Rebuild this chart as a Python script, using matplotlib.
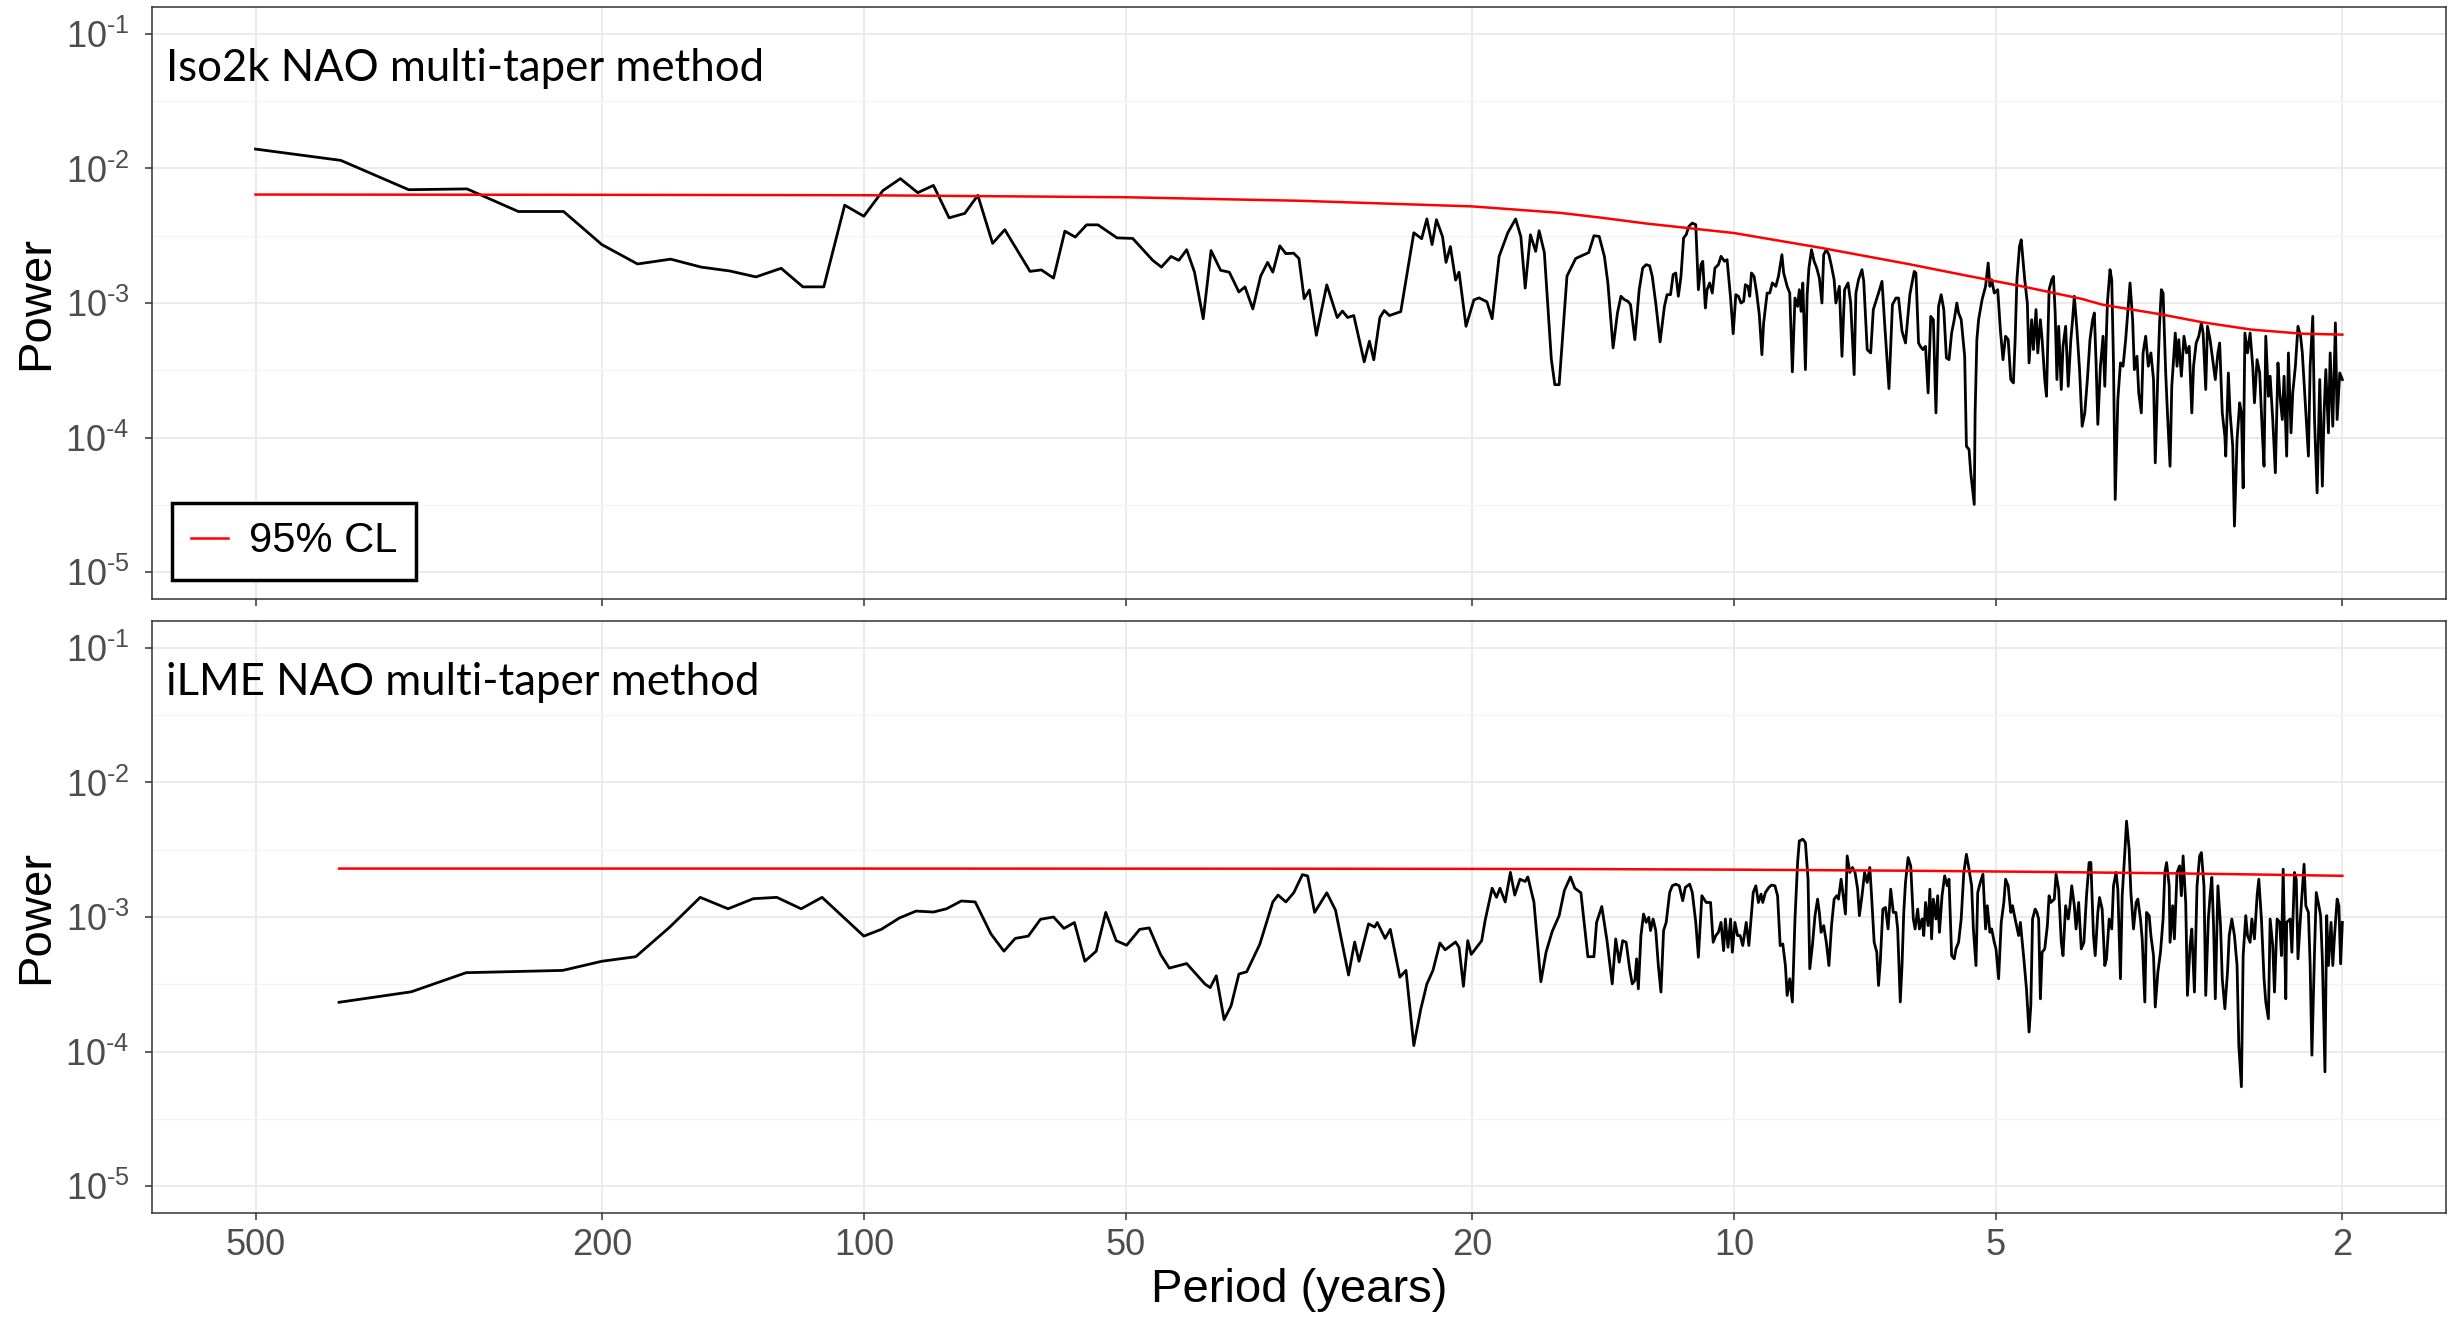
import numpy as np
import matplotlib
matplotlib.use("Agg")
import matplotlib.pyplot as plt
from matplotlib.lines import Line2D
from matplotlib.ticker import NullLocator, NullFormatter

plt.rcParams["font.family"] = ["Liberation Sans", "DejaVu Sans"]
plt.rcParams["mathtext.fontset"] = "custom"
plt.rcParams["mathtext.rm"] = "Liberation Sans"
plt.rcParams["mathtext.it"] = "Liberation Sans:italic"
plt.rcParams["mathtext.bf"] = "Liberation Sans:bold"

panel_titles = ["Iso2k NAO multi-taper method", "iLME NAO multi-taper method"]
period_ticks = [500, 200, 100, 50, 20, 10, 5, 2]
power_exponents = [-1, -2, -3, -4, -5]
power_minor_exponents = [-1.5, -2.5, -3.5, -4.5]
legend_label = "95% CL"

# spectra as (log10 period [yr], log10 power)
iso_spectrum = [
    (2.699, -1.856), (2.601, -1.940), (2.523, -2.158), (2.456, -2.152), (2.397, -2.320),
    (2.345, -2.320), (2.301, -2.566), (2.260, -2.710), (2.222, -2.674), (2.187, -2.733),
    (2.154, -2.762), (2.124, -2.806), (2.095, -2.742), (2.070, -2.880), (2.046, -2.880),
    (2.022, -2.273), (2.000, -2.355), (1.978, -2.164), (1.958, -2.076), (1.938, -2.180),
    (1.920, -2.126), (1.902, -2.367), (1.884, -2.334), (1.869, -2.200), (1.852, -2.557),
    (1.838, -2.455), (1.809, -2.765), (1.796, -2.754), (1.782, -2.815), (1.769, -2.466),
    (1.757, -2.510), (1.744, -2.419), (1.731, -2.419), (1.709, -2.516), (1.691, -2.520),
    (1.668, -2.683), (1.658, -2.733), (1.647, -2.654), (1.638, -2.683), (1.629, -2.604),
    (1.620, -2.771), (1.610, -3.117), (1.601, -2.610), (1.590, -2.757), (1.580, -2.771),
    (1.569, -2.918), (1.562, -2.880), (1.553, -3.044), (1.544, -2.800), (1.536, -2.698),
    (1.530, -2.771), (1.522, -2.575), (1.515, -2.633), (1.506, -2.630), (1.500, -2.669),
    (1.494, -2.968), (1.488, -2.903), (1.480, -3.240), (1.468, -2.865), (1.456, -3.108),
    (1.450, -3.060), (1.444, -3.108), (1.437, -3.093), (1.425, -3.437), (1.419, -3.284),
    (1.414, -3.422), (1.407, -3.108), (1.402, -3.056), (1.396, -3.093), (1.383, -3.064),
    (1.368, -2.478), (1.359, -2.522), (1.353, -2.375), (1.347, -2.566), (1.342, -2.381),
    (1.335, -2.507), (1.331, -2.698), (1.326, -2.580), (1.320, -2.830), (1.316, -2.771),
    (1.308, -3.173), (1.299, -2.977), (1.293, -2.962), (1.284, -2.991), (1.278, -3.117),
    (1.270, -2.654), (1.260, -2.478), (1.251, -2.375), (1.245, -2.507), (1.240, -2.889),
    (1.234, -2.493), (1.228, -2.616), (1.224, -2.463), (1.218, -2.625), (1.210, -3.416),
    (1.206, -3.607), (1.201, -3.607), (1.192, -2.800), (1.182, -2.669), (1.167, -2.625),
    (1.161, -2.500),
    (1.155, -2.505), (1.149, -2.653), (1.145, -2.851), (1.139, -3.334), (1.134, -3.074),
    (1.130, -2.950), (1.126, -2.975), (1.122, -2.987), (1.119, -3.012), (1.114, -3.272),
    (1.109, -2.901), (1.105, -2.740), (1.101, -2.715), (1.097, -2.723), (1.094, -2.802),
    (1.090, -3.000), (1.085, -3.289), (1.080, -3.025), (1.077, -2.938), (1.073, -2.938),
    (1.070, -2.789), (1.067, -2.777), (1.064, -2.950), (1.061, -2.802), (1.058, -2.517),
    (1.055, -2.492), (1.052, -2.431), (1.048, -2.406), (1.044, -2.418), (1.041, -2.901),
    (1.038, -2.715), (1.036, -2.690), (1.033, -3.037), (1.031, -2.901), (1.028, -2.851),
    (1.025, -2.926), (1.022, -2.740), (1.018, -2.715), (1.015, -2.653), (1.011, -2.690),
    (1.008, -2.678), (1.004, -2.963), (1.001, -3.228), (0.998, -2.938), (0.995, -2.950),
    (0.992, -3.000), (0.989, -2.987), (0.987, -2.864), (0.984, -2.876), (0.982, -2.950),
    (0.980, -2.777), (0.977, -2.802), (0.974, -2.926), (0.971, -3.086), (0.968, -3.384),
    (0.966, -3.148), (0.962, -2.926), (0.959, -2.926), (0.956, -2.851), (0.952, -2.876),
    (0.949, -2.802), (0.945, -2.641), (0.943, -2.777), (0.939, -2.876), (0.936, -2.926),
    (0.933, -3.512), (0.930, -2.963), (0.927, -3.025), (0.925, -2.901), (0.923, -3.062),
    (0.921, -2.851), (0.918, -3.495), (0.916, -2.938), (0.914, -2.740), (0.911, -2.604),
    (0.908, -2.690), (0.905, -2.740), (0.902, -2.814), (0.899, -3.000), (0.897, -2.641),
    (0.894, -2.604), (0.891, -2.641), (0.888, -2.728), (0.885, -2.827), (0.883, -3.000),
    (0.879, -2.876), (0.876, -3.396), (0.873, -2.901), (0.869, -2.851), (0.866, -3.000),
    (0.862, -3.532), (0.860, -2.926), (0.857, -2.827), (0.853, -2.752), (0.851, -2.839),
    (0.847, -3.346), (0.843, -3.371), (0.840, -3.049), (0.837, -2.987), (0.834, -2.926),
    (0.830, -2.839), (0.827, -3.148), (0.822, -3.636), (0.818, -3.012), (0.814, -2.963),
    (0.811, -2.963), (0.807, -3.210), (0.803, -3.297), (0.798, -2.938), (0.793, -2.765),
    (0.791, -2.777), (0.788, -3.297), (0.786, -3.322), (0.783, -3.346), (0.780, -3.322),
    (0.777, -3.668), (0.774, -3.099), (0.771, -3.124), (0.768, -3.817), (0.765, -3.025),
    (0.762, -2.938), (0.759, -3.049), (0.756, -3.408), (0.753, -3.421), (0.750, -3.223),
    (0.747, -3.124), (0.744, -3.000), (0.742, -3.074), (0.739, -3.124), (0.735, -3.396),
    (0.733, -4.064), (0.730, -4.089), (0.728, -4.262), (0.724, -4.497), (0.723, -3.817),
    (0.721, -3.272), (0.719, -3.124),
    (0.715, -2.975), (0.711, -2.876), (0.708, -2.703), (0.706, -2.876), (0.704, -2.827),
    (0.701, -2.926), (0.697, -2.901), (0.694, -3.198), (0.691, -3.421), (0.688, -3.247),
    (0.685, -3.272), (0.682, -3.569), (0.679, -3.594), (0.677, -3.272), (0.675, -2.827),
    (0.672, -2.579), (0.670, -2.530), (0.668, -2.678), (0.666, -2.827), (0.663, -3.000),
    (0.661, -3.445), (0.658, -3.124), (0.656, -3.346), (0.653, -3.049), (0.651, -3.371),
    (0.648, -3.124), (0.646, -3.272), (0.643, -3.569), (0.641, -3.693), (0.638, -2.901),
    (0.635, -2.827), (0.633, -2.802), (0.631, -3.074), (0.629, -3.569), (0.627, -3.173),
    (0.624, -3.643), (0.622, -3.322), (0.619, -3.173), (0.616, -3.619), (0.613, -3.272),
    (0.611, -3.124), (0.609, -2.950), (0.606, -3.198), (0.603, -3.495), (0.600, -3.916),
    (0.597, -3.817), (0.594, -3.569), (0.591, -3.272), (0.588, -3.124), (0.586, -3.074),
    (0.584, -3.445), (0.582, -3.902), (0.579, -3.470), (0.576, -3.247), (0.574, -3.619),
    (0.571, -3.000), (0.568, -2.752), (0.566, -2.827), (0.564, -3.445), (0.562, -4.460),
    (0.559, -3.718), (0.556, -3.445), (0.553, -3.470), (0.550, -3.272), (0.547, -3.025),
    (0.545, -2.851), (0.542, -3.124), (0.540, -3.495), (0.537, -3.396), (0.535, -3.668),
    (0.532, -3.817), (0.530, -3.371), (0.527, -3.247), (0.524, -3.470), (0.521, -3.371),
    (0.518, -3.569), (0.516, -4.188), (0.513, -3.520), (0.511, -3.148), (0.509, -2.901),
    (0.507, -2.926), (0.504, -3.520), (0.502, -3.817), (0.499, -4.213), (0.497, -3.619),
    (0.493, -3.223), (0.491, -3.470), (0.489, -3.272), (0.486, -3.544), (0.483, -3.247),
    (0.480, -3.371), (0.477, -3.322), (0.474, -3.817), (0.472, -3.470), (0.469, -3.297),
    (0.466, -3.247), (0.463, -3.148), (0.461, -3.223), (0.458, -3.643), (0.456, -3.173),
    (0.453, -3.272), (0.449, -3.470), (0.447, -3.569), (0.444, -3.371), (0.442, -3.297),
    (0.439, -3.817), (0.436, -3.990), (0.435, -4.138), (0.432, -3.520), (0.430, -3.817),
    (0.427, -4.064), (0.425, -4.658), (0.422, -4.015), (0.419, -3.742), (0.417, -3.817),
    (0.415, -4.374), (0.413, -3.223), (0.410, -3.371), (0.407, -3.223), (0.404, -3.470),
    (0.402, -3.742), (0.399, -3.421), (0.396, -3.520), (0.393, -3.965), (0.391, -4.213),
    (0.389, -3.247), (0.386, -3.693), (0.384, -3.544), (0.381, -3.866), (0.378, -4.262),
    (0.375, -3.445), (0.373, -3.668), (0.370, -3.866), (0.368, -3.544), (0.365, -4.138),
    (0.363, -3.371), (0.360, -3.965), (0.358, -3.668), (0.355, -3.470), (0.352, -3.173),
    (0.349, -3.247), (0.347, -3.371), (0.343, -3.817), (0.340, -4.138), (0.338, -3.470),
    (0.335, -3.099), (0.333, -3.866), (0.330, -4.411), (0.327, -3.569), (0.324, -4.361),
    (0.322, -3.817), (0.320, -3.495), (0.317, -3.965), (0.315, -3.371), (0.312, -3.916),
    (0.309, -3.148), (0.307, -3.866), (0.304, -3.520), (0.301, -3.569),
]

iso_cl = [
    (2.699, -2.194), (2.301, -2.196), (2.000, -2.199), (1.699, -2.214), (1.500, -2.240),
    (1.301, -2.282), (1.200, -2.330), (1.155, -2.364), (1.100, -2.410), (1.000, -2.480),
    (0.900, -2.590), (0.800, -2.710), (0.730, -2.800), (0.669, -2.876), (0.600, -2.970),
    (0.577, -3.012), (0.508, -3.086), (0.462, -3.143), (0.405, -3.198), (0.347, -3.228),
    (0.301, -3.235),
]

ilme_spectrum = [
    (2.603, -3.634), (2.520, -3.556), (2.457, -3.414), (2.346, -3.397), (2.301, -3.329),
    (2.262, -3.295), (2.223, -3.075), (2.188, -2.854), (2.156, -2.939), (2.127, -2.864),
    (2.100, -2.854), (2.072, -2.939), (2.048, -2.854), (2.000, -3.142), (1.980, -3.092),
    (1.959, -3.007), (1.940, -2.956), (1.920, -2.963), (1.905, -2.939), (1.888, -2.881),
    (1.872, -2.888), (1.854, -3.125), (1.839, -3.254), (1.826, -3.159), (1.811, -3.142),
    (1.797, -3.017), (1.782, -3.000), (1.770, -3.085), (1.758, -3.041), (1.746, -3.329),
    (1.733, -3.254), (1.722, -2.966), (1.710, -3.176), (1.698, -3.210), (1.683, -3.092),
    (1.672, -3.081), (1.659, -3.278), (1.649, -3.380), (1.629, -3.346), (1.608, -3.498),
    (1.602, -3.525), (1.595, -3.437), (1.586, -3.763), (1.578, -3.661), (1.569, -3.424),
    (1.560, -3.407), (1.545, -3.203), (1.530, -2.888), (1.524, -2.837), (1.515, -2.888),
    (1.506, -2.820), (1.496, -2.685), (1.490, -2.695), (1.482, -2.966), (1.468, -2.820),
    (1.458, -2.949), (1.443, -3.431), (1.436, -3.186), (1.431, -3.329), (1.420, -3.051),
    (1.413, -3.075), (1.410, -3.041), (1.401, -3.159), (1.395, -3.092), (1.384, -3.447),
    (1.377, -3.397), (1.368, -3.956), (1.360, -3.685), (1.353, -3.498), (1.346, -3.397),
    (1.338, -3.193), (1.332, -3.244), (1.320, -3.186), (1.316, -3.227), (1.311, -3.515),
    (1.306, -3.176), (1.302, -3.278), (1.290, -3.176), (1.286, -3.024), (1.278, -2.786),
    (1.273, -2.854), (1.269, -2.786), (1.263, -2.888), (1.257, -2.668), (1.252, -2.837),
    (1.246, -2.719), (1.240, -2.736), (1.237, -2.702), (1.230, -2.888), (1.222, -3.481),
    (1.216, -3.261), (1.209, -3.108), (1.201, -2.990), (1.195, -2.803), (1.188, -2.702),
    (1.183, -2.786), (1.176, -2.820), (1.168, -3.295), (1.161, -3.295), (1.158, -3.041),
    (1.152, -2.922), (1.146, -3.176), (1.140, -3.497),
    (1.136, -3.163), (1.132, -3.336), (1.128, -3.176), (1.124, -3.188), (1.120, -3.385),
    (1.117, -3.497), (1.114, -3.472), (1.112, -3.311), (1.110, -3.534), (1.107, -3.138),
    (1.104, -2.978), (1.101, -3.040), (1.098, -3.003), (1.096, -3.101), (1.093, -3.015),
    (1.090, -3.101), (1.087, -3.361), (1.084, -3.558), (1.081, -3.101), (1.078, -3.040),
    (1.074, -2.818), (1.071, -2.768), (1.067, -2.756), (1.063, -2.768), (1.059, -2.879),
    (1.056, -2.780), (1.051, -2.756), (1.048, -2.818), (1.044, -3.040), (1.041, -3.299),
    (1.037, -2.842), (1.032, -2.892), (1.027, -2.892), (1.024, -3.188), (1.021, -3.138),
    (1.018, -3.114), (1.015, -3.040), (1.012, -3.250), (1.010, -3.015), (1.007, -3.225),
    (1.004, -3.015), (1.002, -3.262), (0.999, -3.040), (0.996, -3.138), (0.993, -3.138),
    (0.990, -3.212), (0.986, -3.040), (0.983, -3.212),
    (0.978, -2.818), (0.975, -2.768), (0.972, -2.892), (0.969, -2.830), (0.967, -2.892),
    (0.964, -2.818), (0.960, -2.780), (0.957, -2.763), (0.953, -2.768), (0.950, -2.842),
    (0.947, -3.213), (0.944, -3.200), (0.941, -3.361), (0.939, -3.583), (0.936, -3.459),
    (0.933, -3.632), (0.930, -3.015), (0.927, -2.595), (0.925, -2.435), (0.921, -2.422),
    (0.918, -2.447), (0.915, -2.719), (0.913, -3.385), (0.910, -3.213), (0.907, -2.990),
    (0.904, -2.867), (0.902, -2.966), (0.900, -3.114), (0.897, -3.064), (0.894, -3.188),
    (0.891, -3.361), (0.888, -3.064), (0.885, -2.867), (0.882, -2.842), (0.880, -2.867),
    (0.877, -2.719), (0.875, -2.818), (0.872, -2.978), (0.870, -2.546), (0.867, -2.669),
    (0.864, -2.632), (0.861, -2.669), (0.858, -2.793), (0.856, -2.990), (0.853, -2.842),
    (0.850, -2.669), (0.847, -2.743), (0.844, -2.632), (0.842, -2.842), (0.839, -3.188),
    (0.836, -3.262), (0.834, -3.509), (0.832, -3.336), (0.829, -2.941), (0.826, -2.929),
    (0.823, -3.089), (0.820, -2.793), (0.817, -2.966), (0.814, -2.966), (0.812, -3.089),
    (0.809, -3.632), (0.807, -3.361), (0.805, -2.966), (0.803, -2.743), (0.800, -2.558),
    (0.797, -2.620), (0.794, -3.015), (0.792, -3.089), (0.789, -2.941), (0.787, -3.089),
    (0.784, -3.015), (0.782, -3.138), (0.780, -2.892), (0.777, -3.064), (0.775, -2.793),
    (0.773, -3.163), (0.771, -2.867), (0.768, -3.015), (0.766, -2.842), (0.764, -3.114),
    (0.761, -2.842), (0.758, -2.694), (0.755, -2.768), (0.753, -2.719), (0.750, -3.287),
    (0.747, -3.311), (0.745, -3.237), (0.742, -3.188), (0.739, -3.015), (0.736, -2.669),
    (0.733, -2.534), (0.730, -2.645), (0.727, -2.768), (0.725, -3.089), (0.722, -3.361),
    (0.720, -2.818), (0.717, -2.743), (0.714, -2.682), (0.711, -3.089), (0.709, -2.916),
    (0.706, -3.114), (0.704, -3.089), (0.701, -3.188), (0.699, -3.237), (0.696, -3.459),
    (0.693, -3.040), (0.690, -2.892), (0.688, -2.719), (0.685, -2.768), (0.682, -2.966),
    (0.680, -2.916), (0.677, -3.015), (0.673, -3.138), (0.671, -3.040), (0.667, -3.311),
    (0.664, -3.534), (0.661, -3.855), (0.659, -3.657), (0.657, -3.015), (0.654, -2.941),
    (0.652, -2.966), (0.650, -3.015),
    (0.648, -3.608), (0.646, -3.262), (0.643, -3.237), (0.640, -3.064), (0.638, -2.842),
    (0.636, -2.892), (0.632, -2.867), (0.630, -2.682), (0.627, -2.793), (0.624, -3.188),
    (0.622, -3.287), (0.619, -2.916), (0.616, -3.015), (0.614, -2.916), (0.612, -2.768),
    (0.609, -2.916), (0.607, -3.089), (0.604, -2.892), (0.601, -3.237), (0.598, -3.188),
    (0.595, -2.842), (0.592, -2.595), (0.590, -2.595), (0.587, -3.138), (0.585, -3.287),
    (0.582, -2.966), (0.580, -2.855), (0.577, -2.941), (0.574, -3.361), (0.572, -3.311),
    (0.569, -3.015), (0.566, -3.089), (0.564, -2.768), (0.561, -2.669), (0.559, -2.793),
    (0.556, -3.459), (0.554, -2.842), (0.551, -2.521), (0.549, -2.287), (0.546, -2.497),
    (0.544, -2.818), (0.541, -3.089), (0.538, -2.892), (0.536, -2.867), (0.533, -3.015),
    (0.531, -3.163), (0.528, -3.632), (0.526, -2.966), (0.523, -2.990), (0.521, -3.138),
    (0.518, -3.287), (0.516, -3.669), (0.513, -3.410), (0.510, -3.262), (0.507, -3.015),
    (0.505, -2.669), (0.503, -2.595), (0.500, -2.768), (0.499, -3.188), (0.496, -2.916),
    (0.494, -3.163), (0.491, -2.669), (0.488, -2.620), (0.486, -2.842), (0.484, -2.546),
    (0.481, -2.892), (0.479, -3.583), (0.476, -3.213), (0.474, -3.089), (0.471, -3.558),
    (0.468, -2.768), (0.465, -2.546), (0.463, -2.521), (0.460, -2.768), (0.458, -3.583),
    (0.455, -3.015), (0.453, -2.842), (0.451, -2.706), (0.449, -3.064), (0.447, -3.608),
    (0.444, -2.768), (0.441, -3.064), (0.439, -3.459), (0.436, -3.682), (0.433, -3.410),
    (0.431, -3.138), (0.428, -3.015), (0.425, -3.138), (0.422, -3.361), (0.420, -3.953),
    (0.417, -4.262), (0.415, -3.287), (0.412, -2.990), (0.410, -3.138), (0.407, -3.188),
    (0.405, -3.015), (0.402, -3.163), (0.399, -2.842), (0.397, -2.719), (0.394, -3.015),
    (0.391, -3.459), (0.389, -3.632), (0.386, -3.756), (0.384, -3.015), (0.381, -3.213),
    (0.379, -3.558), (0.376, -3.015), (0.373, -3.040), (0.371, -3.287), (0.369, -2.645),
    (0.366, -3.608), (0.365, -3.040), (0.361, -3.015), (0.359, -3.262), (0.356, -2.669),
    (0.354, -2.719), (0.352, -3.311), (0.349, -2.990), (0.347, -2.793), (0.345, -2.608),
    (0.343, -2.916), (0.340, -2.966), (0.338, -3.361), (0.336, -4.027), (0.333, -3.262),
    (0.331, -2.818), (0.328, -2.916), (0.326, -2.990), (0.324, -3.311), (0.321, -4.151),
    (0.319, -2.990), (0.317, -3.361), (0.314, -3.040), (0.312, -3.361), (0.310, -3.138),
    (0.307, -2.867), (0.305, -2.916), (0.303, -3.348), (0.301, -3.040),
]

ilme_cl = [
    (2.603, -2.640), (2.000, -2.640), (1.500, -2.641), (1.200, -2.643), (1.000, -2.648),
    (0.800, -2.656), (0.660, -2.664), (0.500, -2.675), (0.400, -2.684), (0.301, -2.694),
]

grid_major = "#EBEBEB"
grid_minor = "#F3F3F3"
frame_col = "#333333"
tick_text = "#4D4D4D"

fig = plt.figure(figsize=(24.55, 13.18), dpi=100)
ax_top = fig.add_axes([0.0619, 0.5455, 0.9344, 0.4492])
ax_bot = fig.add_axes([0.0619, 0.0797, 0.9344, 0.4491])

panels = [
    (ax_top, iso_spectrum, iso_cl, panel_titles[0]),
    (ax_bot, ilme_spectrum, ilme_cl, panel_titles[1]),
]

for ax, spectrum, cl, title in panels:
    log_p, log_pow = np.array(spectrum).T
    ax.plot(10 ** log_p, 10 ** log_pow, color="black", lw=2.0, zorder=3)
    cl_p, cl_pow = np.array(cl).T
    ax.plot(10 ** cl_p, 10 ** cl_pow, color="red", lw=1.8, zorder=4)

    ax.set_xscale("log")
    ax.set_yscale("log")
    ax.set_xlim(10 ** 2.818, 10 ** 0.182)
    ax.set_ylim(10 ** -5.2, 10 ** -0.8)

    ax.set_xticks(period_ticks)
    ax.set_xticklabels([str(p) for p in period_ticks])
    ax.xaxis.set_minor_locator(NullLocator())

    # ggplot-style "10^-1" labels with a short hyphen in the exponent
    ax.set_yticks([10.0 ** e for e in power_exponents])
    ax.set_yticklabels([rf"$10^{{\text{{{e}}}}}$" for e in power_exponents])
    ax.set_yticks([10.0 ** e for e in power_minor_exponents], minor=True)
    ax.yaxis.set_minor_formatter(NullFormatter())

    ax.set_axisbelow(True)
    ax.grid(which="major", color=grid_major, lw=1.4)
    ax.grid(which="minor", axis="y", color=grid_minor, lw=0.9)
    ax.tick_params(which="minor", length=0)
    ax.tick_params(which="major", length=5, width=1.1, color=frame_col,
                   labelcolor=tick_text)
    ax.tick_params(axis="y", labelsize=26, pad=11)
    ax.tick_params(axis="x", labelsize=26, pad=6)
    for s in ax.spines.values():
        s.set_color(frame_col)
        s.set_linewidth(1.1)

    ax.set_ylabel("Power", fontsize=34, color="black")
    ax.yaxis.set_label_coords(-0.041, 0.5)
    ax.text(0.006, 0.875, title, transform=ax.transAxes, fontsize=31.5,
            family=["Lato", "DejaVu Sans"], va="baseline", ha="left", color="black")

ax_top.tick_params(axis="x", labelbottom=False)
ax_bot.set_xlabel("Period (years)", fontsize=34, color="black")
ax_bot.xaxis.set_label_coords(0.5, -0.093)

cl_handle = Line2D([], [], color="red", lw=1.8)
leg = ax_top.legend([cl_handle], [legend_label], loc="lower left",
                    bbox_to_anchor=(0.0087, 0.032), borderaxespad=0, fontsize=30,
                    frameon=True, fancybox=False, edgecolor="black", framealpha=1,
                    handlelength=0.9, handletextpad=0.5, borderpad=0.45)
leg.get_frame().set_linewidth(2.5)

fig.savefig("out.png", dpi=100)
